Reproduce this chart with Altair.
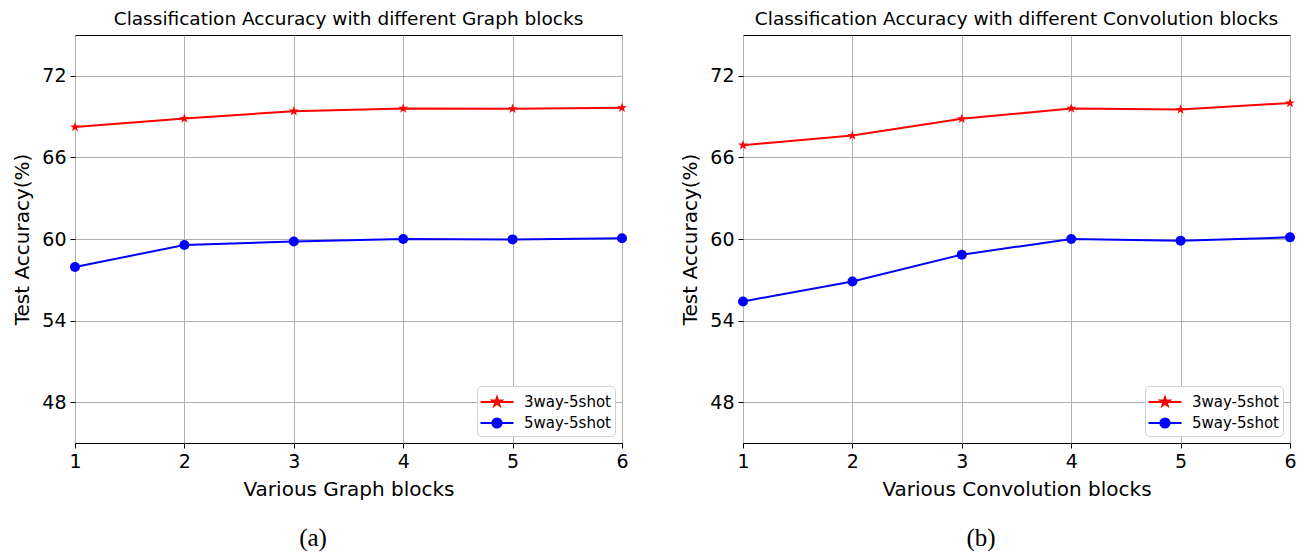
import math
import altair as alt
import pandas as pd

blocks = [1, 2, 3, 4, 5, 6]
series_names = ["3way-5shot", "5way-5shot"]
graph_3way = [68.23, 68.86, 69.40, 69.60, 69.57, 69.65]
graph_5way = [57.94, 59.56, 59.82, 60.00, 59.97, 60.05]
conv_3way = [66.90, 67.61, 68.84, 69.60, 69.52, 70.00]
conv_5way = [55.41, 56.88, 58.85, 60.00, 59.88, 60.12]
panel_titles = [
    "Classification Accuracy with different Graph blocks",
    "Classification Accuracy with different Convolution blocks",
]
x_titles = ["Various Graph blocks", "Various Convolution blocks"]
captions = ["(a)", "(b)"]
y_title = "Test Accuracy(%)"
y_ticks = [48, 54, 60, 66, 72]
y_domain = [45, 75]
series_colors = ["#ff0000", "#0000ff"]


def star_path(r_out, r_in):
    pts = []
    for k in range(10):
        ang = math.radians(-90 + 36 * k)
        r = r_out if k % 2 == 0 else r_in
        pts.append((r * math.cos(ang), r * math.sin(ang)))
    return "M" + "L".join(f"{x:.4f},{y:.4f}" for x, y in pts) + "Z"


STAR = star_path(1.0, 0.382)
LEG_STAR = "M-1.5,0L1.5,0" + star_path(0.42, 0.16)
LEG_CIRC = "M-1.5,0L1.5,0M0.42,0A0.42,0.42 0 1,1 -0.42,0A0.42,0.42 0 1,1 0.42,0Z"

W, H = 547, 408


def panel(i, s3, s5):
    df = pd.DataFrame({
        "block": blocks * 2,
        "acc": s3 + s5,
        "series": [series_names[0]] * len(blocks) + [series_names[1]] * len(blocks),
    })
    base = alt.Chart(df).encode(
        x=alt.X("block:Q", scale=alt.Scale(domain=[blocks[0], blocks[-1]], nice=False, zero=False),
                axis=alt.Axis(values=blocks, title=x_titles[i], format="d")),
        y=alt.Y("acc:Q", scale=alt.Scale(domain=y_domain, nice=False, zero=False),
                axis=alt.Axis(values=y_ticks, title=y_title)),
    )
    color = alt.Color("series:N", scale=alt.Scale(domain=series_names, range=series_colors), legend=None)
    lines = base.mark_line(strokeWidth=2).encode(color=color)
    stars = base.transform_filter(alt.datum.series == series_names[0]).mark_point(
        shape=STAR, filled=True, size=110, opacity=1).encode(color=color)
    dots = base.transform_filter(alt.datum.series == series_names[1]).mark_point(
        shape="circle", filled=True, size=100, opacity=1).encode(color=color)

    leg = alt.Legend(
        title=None, orient="bottom-right", offset=7, padding=4,
        strokeColor="#d0d0d0", fillColor="white", cornerRadius=4,
        labelFont="DejaVu Sans", labelFontSize=15, labelColor="black",
        symbolSize=484, symbolStrokeWidth=2, symbolOffset=4, labelOffset=15,
        rowPadding=1,
    )
    leg_scale = alt.Scale(domain=series_names, range=series_colors)
    legend_layer = alt.Chart(df).transform_filter("false").mark_point(
        filled=True, opacity=1, strokeWidth=2).encode(
        shape=alt.Shape("series:N", scale=alt.Scale(domain=series_names, range=[LEG_STAR, LEG_CIRC]), legend=leg),
        fill=alt.Fill("series:N", scale=leg_scale, legend=leg),
        stroke=alt.Stroke("series:N", scale=leg_scale, legend=leg),
    )
    cap = alt.Chart(pd.DataFrame({"caption": [captions[i]]})).mark_text(
        font="Liberation Serif", fontSize=25, color="black", align="center", baseline="middle"
    ).encode(text="caption:N", x=alt.value(238), y=alt.value(503))

    return alt.layer(lines, stars, dots, legend_layer, cap).properties(
        width=W, height=H,
        title=alt.TitleParams(panel_titles[i], fontSize=18.5, font="DejaVu Sans",
                              fontWeight="normal", color="black", offset=7),
    )


chart = alt.hconcat(
    panel(0, graph_3way, graph_5way),
    panel(1, conv_3way, conv_5way),
    spacing=51,
).resolve_scale(
    fill="independent", stroke="independent", shape="independent"
).configure_view(
    stroke="black", strokeWidth=1
).configure_axis(
    grid=True, gridColor="#b0b0b0", gridWidth=1, domain=False,
    tickColor="black", tickSize=5, tickWidth=1,
    labelFont="DejaVu Sans", labelFontSize=19, labelColor="black", labelPadding=4,
    labelFlush=False, labelOverlap=False,
    titleFont="DejaVu Sans", titleFontSize=20, titleFontWeight="normal", titleColor="black",
).configure_axisY(
    titlePadding=9
).configure_axisX(
    titlePadding=8
).properties(
    padding={"left": 12, "top": 9, "right": 10, "bottom": 5},
    background="white",
)

chart.save("out.html", embed_options={"renderer": "svg", "actions": False})
